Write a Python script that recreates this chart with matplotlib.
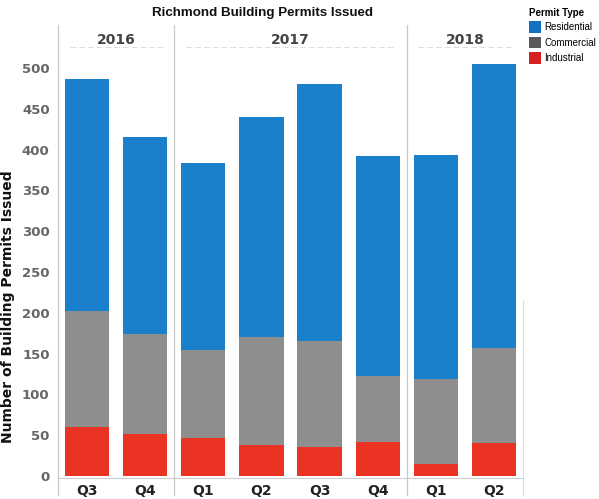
import matplotlib
matplotlib.use("Agg")
import matplotlib.pyplot as plt
from matplotlib.patches import Patch
import numpy as np

quarters = ["Q3", "Q4", "Q1", "Q2", "Q3", "Q4", "Q1", "Q2"]
years = ["2016", "2017", "2018"]
year_counts = [2, 4, 2]
industrial = [60, 51, 46, 38, 35, 42, 15, 40]
commercial = [142, 123, 108, 132, 131, 81, 104, 117]
residential = [284, 242, 230, 270, 314, 269, 275, 348]

c_res = "#1b80cc"
c_com = "#8e8e8e"
c_ind = "#ea3323"

W, H = 599, 499
fig = plt.figure(figsize=(W / 100, H / 100), dpi=100)
ax_l, ax_r, ax_t, ax_b = 58, 523, 55, 478
ax = fig.add_axes([ax_l / W, 1 - ax_b / H, (ax_r - ax_l) / W, (ax_b - ax_t) / H])

x = np.arange(len(quarters))
ind = np.array(industrial)
com = np.array(commercial)
res = np.array(residential)
w = 0.76
ax.bar(x, ind, w, color=c_ind, label="Industrial")
ax.bar(x, com, w, bottom=ind, color=c_com, label="Commercial")
ax.bar(x, res, w, bottom=ind + com, color=c_res, label="Residential")

ax.set_xlim(-0.5, len(quarters) - 0.5)
ax.set_ylim(-2.5, 516)
ax.set_yticks(np.arange(0, 501, 50))
ax.set_xticks(x)
ax.set_xticklabels(quarters, fontsize=10, fontweight="bold", color="#222222")
for lab in ax.get_yticklabels():
    lab.set_fontsize(9.5)
    lab.set_fontweight("bold")
    lab.set_color("#666666")
ax.tick_params(axis="both", length=0)
ax.tick_params(axis="y", pad=6)
ax.tick_params(axis="x", pad=4)
for s in ["top", "right", "left"]:
    ax.spines[s].set_visible(False)
ax.spines["bottom"].set_color("#cccccc")
ax.spines["bottom"].set_linewidth(0.8)

ax.set_ylabel("Number of Building Permits Issued", fontsize=10, fontweight="bold",
              color="#111111")
ax_w = ax_r - ax_l
ax_h = ax_b - ax_t
ax.yaxis.set_label_coords((15 - ax_l) / ax_w, (ax_b - 307) / ax_h)

# year separators and header
ymax_ext = (ax_b - 25) / ax_h
ymin_ext = (ax_b - 495) / ax_h
bounds = np.concatenate([[0], np.cumsum(year_counts)]) - 0.5
for i, bx in enumerate(bounds):
    if i == len(bounds) - 1:
        ax.axvline(bx, ymin=ymin_ext, ymax=(ax_b - 300) / ax_h, color="#dddddd", lw=0.8, clip_on=False)
    else:
        ax.axvline(bx, ymin=ymin_ext, ymax=ymax_ext, color="#c8c8c8", lw=0.9, clip_on=False)

for i, yr in enumerate(years):
    cx = (bounds[i] + bounds[i + 1]) / 2
    ax.text(cx, 1 + (ax_t - 40) / ax_h, yr, transform=ax.get_xaxis_transform(),
            ha="center", va="center", fontsize=10, color="#444444", fontweight="bold")
    ax.plot([bounds[i] + 0.2, bounds[i + 1] - 0.2], [1 + (ax_t - 47) / ax_h] * 2,
            transform=ax.get_xaxis_transform(), color="#dddddd", lw=0.7, ls=(0, (6, 3)),
            clip_on=False, zorder=0)

fig.text(263 / W, 1 - 13 / H, "Richmond Building Permits Issued", ha="center", va="center",
         fontsize=9.6, fontweight="bold", family="Liberation Sans", color="#111111")

handles = [Patch(facecolor="#1170c4", label="Residential"),
           Patch(facecolor="#595959", label="Commercial"),
           Patch(facecolor="#d62020", label="Industrial")]
leg = fig.legend(handles=handles, loc="upper left", bbox_to_anchor=(527 / W, 1 - 6 / H),
                 title="Permit Type", frameon=False, prop={"family": "Liberation Sans", "size": 7},
                 title_fontproperties={"family": "Liberation Sans", "size": 7, "weight": "bold"},
                 handlelength=1.2, handleheight=1.5, handletextpad=0.35, labelspacing=0.35,
                 borderaxespad=0, borderpad=0.2)
leg._legend_box.align = "left"

fig.savefig("out.png", dpi=100)
